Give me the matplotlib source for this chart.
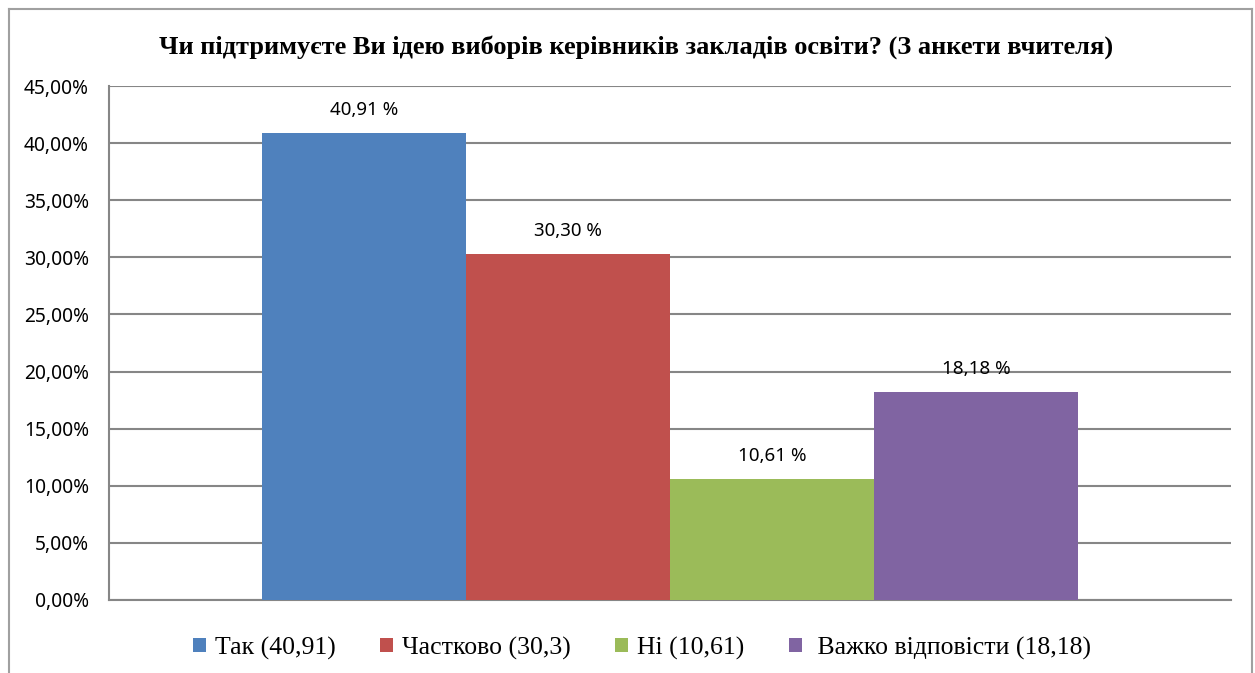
import matplotlib
matplotlib.use("Agg")
import matplotlib.pyplot as plt
from matplotlib.lines import Line2D

title = "Чи підтримуєте Ви ідею виборів керівників закладів освіти? (З анкети вчителя)"
series_names = ["Так (40,91)", "Частково (30,3)", "Ні (10,61)", " Важко відповісти (18,18)"]
values = [40.91, 30.30, 10.61, 18.18]
value_labels = ["40,91 %", "30,30 %", "10,61 %", "18,18 %"]
colors = ["#4F81BD", "#C0504D", "#9BBB59", "#8064A2"]
yticks = [0, 5, 10, 15, 20, 25, 30, 35, 40, 45]
ytick_labels = ["0,00%", "5,00%", "10,00%", "15,00%", "20,00%", "25,00%", "30,00%", "35,00%", "40,00%", "45,00%"]

fig = plt.figure(figsize=(12.55, 6.73), dpi=100)
ax = fig.add_axes([109/1255, 1-600/673, (1231-109)/1255, (600-86)/673])

n = len(values)
bars = []
for i, (v, c, name) in enumerate(zip(values, colors, series_names)):
    x = i - (n - 1) / 2
    b = ax.bar(x, v, width=1.0, color=c, label=name, zorder=3)
    bars.append(b)
    ax.annotate(value_labels[i], (x, v), xytext=(0, 16.5), textcoords="offset points",
                ha="center", va="center", fontsize=13.5, family="Noto Sans", color="#000000")

ax.set_xlim(-2.75, 2.75)
ax.set_ylim(0, 45)
ax.set_yticks(yticks)
ax.set_yticklabels(ytick_labels, family="Noto Sans", fontsize=13.8)
ax.set_xticks([])
ax.tick_params(axis="y", length=0, pad=14.5)
ax.yaxis.grid(True, color="#868686", linewidth=1.5, zorder=0)
for s in ["top", "right"]:
    ax.spines[s].set_visible(False)
for s in ["left", "bottom"]:
    ax.spines[s].set_color("#868686")
    ax.spines[s].set_linewidth(1.5)

fig.text(636/1255, 1-47/673, title, ha="center", va="center", fontsize=19,
         fontweight="bold", family="Liberation Serif")

leg = fig.legend(handles=[b[0] for b in bars], labels=series_names, loc="center",
                 bbox_to_anchor=(642/1255, 1-648/673), ncol=4, frameon=False,
                 prop={"family": "Liberation Serif", "size": 18.5},
                 handlelength=0.5, handleheight=0.5, handletextpad=0.35, columnspacing=1.73)

bc = "#A0A0A0"
fig.add_artist(Line2D([9/1255, 9/1255], [0, 1-9/673], color=bc, lw=1.5, transform=fig.transFigure))
fig.add_artist(Line2D([9/1255, 1252/1255], [1-9/673, 1-9/673], color=bc, lw=1.5, transform=fig.transFigure))
fig.add_artist(Line2D([1252/1255, 1252/1255], [0, 1-9/673], color=bc, lw=1.5, transform=fig.transFigure))

fig.savefig("out.png", dpi=100)
